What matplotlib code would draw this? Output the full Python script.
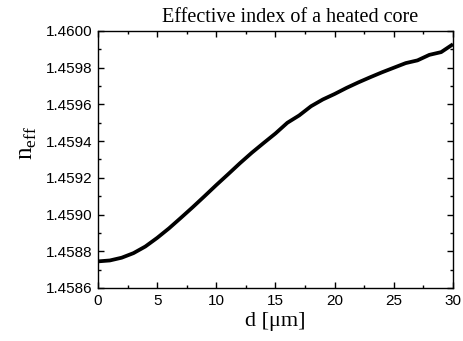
import matplotlib
matplotlib.use("Agg")
import matplotlib.pyplot as plt
from matplotlib.ticker import MultipleLocator, FormatStrFormatter

# core offset d (um) and effective index
d_um = [0, 1, 2, 3, 4, 5, 6, 7, 8, 9, 10, 11, 12, 13, 14, 15,
        16, 17, 18, 19, 20, 21, 22, 23, 24, 25, 26, 27, 28, 29, 30]
n_eff = [1.458745, 1.458750, 1.458765, 1.458790, 1.458826, 1.458873,
         1.458925, 1.458982, 1.459040, 1.459100, 1.459161, 1.459220,
         1.459280, 1.459337, 1.459390, 1.459442, 1.459500, 1.459540,
         1.459590, 1.459627, 1.459657, 1.459690, 1.459720, 1.459748,
         1.459775, 1.459800, 1.459825, 1.459840, 1.459870, 1.459885,
         1.459928]

serif = "Liberation Serif"
sans = "Liberation Sans"

fig = plt.figure(figsize=(4.64, 3.41), dpi=100)
ax = fig.add_axes([98 / 464, 1 - 288 / 341, 355 / 464, 257 / 341])

ax.plot(d_um, n_eff, color="black", lw=2.7, solid_capstyle="butt")

ax.set_xlim(0, 30)
ax.set_ylim(1.4586, 1.4600)
ax.xaxis.set_major_locator(MultipleLocator(5))
ax.xaxis.set_minor_locator(MultipleLocator(2.5))
ax.yaxis.set_major_locator(MultipleLocator(0.0002))
ax.yaxis.set_minor_locator(MultipleLocator(0.0001))
ax.yaxis.set_major_formatter(FormatStrFormatter("%.4f"))
ax.tick_params(which="both", direction="in", top=True, right=True,
               width=1.0, labelsize=11)
ax.tick_params(which="major", length=4, pad=4)
ax.tick_params(which="minor", length=2.5)
for lab in ax.get_xticklabels() + ax.get_yticklabels():
    lab.set_fontfamily(sans)
for s in ax.spines.values():
    s.set_linewidth(1.0)

ax.set_title("Effective index of a heated core", fontfamily=serif,
             fontsize=14.5, pad=6.5, x=0.541)
ax.set_xlabel("d [\u03bcm]", fontfamily=serif, fontsize=16, labelpad=3)
ax.set_ylabel("n$_{\\mathregular{eff}}$", fontfamily=serif, fontsize=18,
              labelpad=8)
ax.yaxis.set_label_coords(-0.165, 0.565)

fig.savefig("out.png", dpi=100)
